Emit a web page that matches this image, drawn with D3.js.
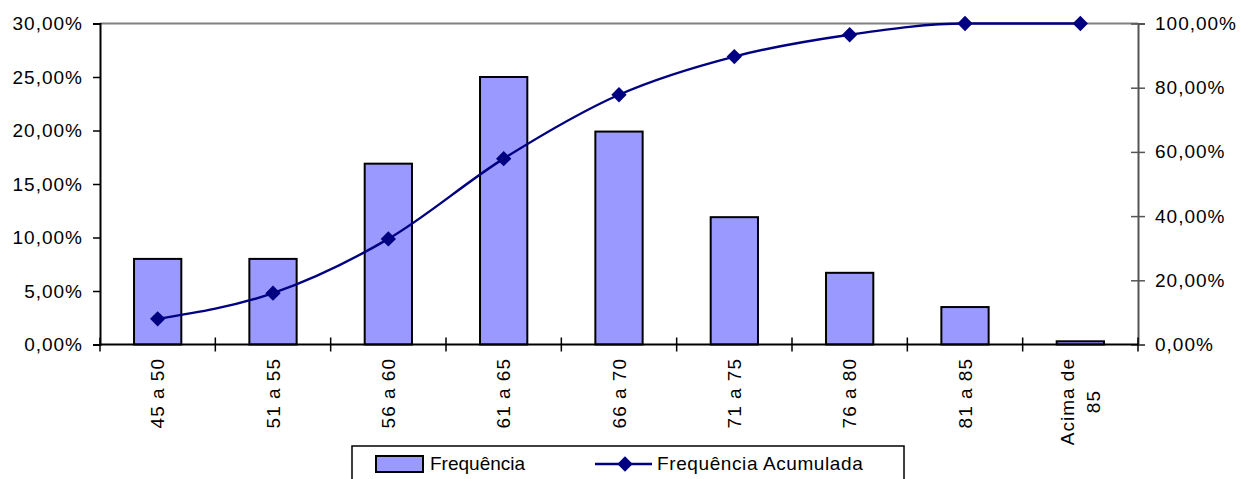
<!DOCTYPE html>
<html>
<head>
<meta charset="utf-8">
<script src="https://cdn.jsdelivr.net/npm/d3@7"></script>
<style>
  body { margin: 0; background: #fff; }
  svg text { font-family: "Liberation Sans", Arial, sans-serif; fill: #000; }
</style>
</head>
<body>
<div id="graph"></div>
<script>
// data
var categories = ["45 a 50", "51 a 55", "56 a 60", "61 a 65", "66 a 70", "71 a 75", "76 a 80", "81 a 85", "Acima de\n85"];
var freq = [8.0, 8.0, 16.9, 25.0, 19.9, 11.9, 6.7, 3.5, 0.3];
var freqAcum = [8.0, 16.0, 32.9, 57.9, 77.8, 89.7, 96.5, 100, 100];
var leftTicks = [0, 5, 10, 15, 20, 25, 30];
var rightTicks = [0, 20, 40, 60, 80, 100];

var W = 1242, H = 479;
// note: "top" is reserved on window, so plot_* names
var plot_l = 100, plot_r = 1138, plot_t = 23.5, plot_b = 344.5;

var svg = d3.select("#graph").append("svg")
  .attr("width", W)
  .attr("height", H);

function pct(v) { return d3.format(".2f")(v).replace(".", ",") + "%"; }

// scales
var x0 = d3.scaleBand().domain(categories).range([plot_l, plot_r]).padding(0);
var xBar = d3.scaleBand().domain(categories).range([plot_l, plot_r])
  .paddingInner(0.59).paddingOuter(0.295);
var yL = d3.scaleLinear().domain([0, 30]).range([plot_b, plot_t]);
var yR = d3.scaleLinear().domain([0, 100]).range([plot_b, plot_t]);

// top border
svg.append("line")
  .attr("x1", plot_l).attr("x2", plot_r)
  .attr("y1", plot_t).attr("y2", plot_t)
  .attr("stroke", "#808080").attr("stroke-width", 2);

// bars
svg.selectAll(".bar")
  .data(freq)
  .enter().append("rect")
  .attr("class", "bar")
  .attr("x", function(d, i) { return xBar(categories[i]); })
  .attr("width", xBar.bandwidth())
  .attr("y", function(d) { return yL(d); })
  .attr("height", function(d) { return plot_b - yL(d); })
  .attr("fill", "#9999ff")
  .attr("stroke", "#000")
  .attr("stroke-width", 2);

// left axis
var gl = svg.append("g")
  .attr("transform", "translate(" + plot_l + ",0)")
  .call(d3.axisLeft(yL).tickValues(leftTicks).tickSize(7).tickPadding(10).tickFormat(pct));
gl.select(".domain").attr("stroke", "#000").attr("stroke-width", 2);
gl.selectAll(".tick line").attr("stroke", "#000").attr("stroke-width", 1.5);
gl.selectAll("text").style("font-size", "19px").style("letter-spacing", "1px")
  .attr("fill", "#000");

// right axis
var gr = svg.append("g")
  .attr("transform", "translate(" + plot_r + ",0)")
  .call(d3.axisRight(yR).tickValues(rightTicks).tickSize(7).tickPadding(10).tickFormat(pct));
gr.select(".domain").attr("stroke", "#555").attr("stroke-width", 2);
gr.selectAll(".tick line").attr("stroke", "#555").attr("stroke-width", 1.5).attr("x1", -7);
gr.selectAll("text").style("font-size", "19px").style("letter-spacing", "1px")
  .attr("fill", "#000");

// bottom axis: line, cross ticks at category boundaries
svg.append("line")
  .attr("x1", plot_l).attr("x2", plot_r)
  .attr("y1", plot_b).attr("y2", plot_b)
  .attr("stroke", "#000").attr("stroke-width", 2);
var bounds = categories.map(function(c) { return x0(c); }).concat([plot_r]);
svg.selectAll(".xtick")
  .data(bounds)
  .enter().append("line")
  .attr("x1", function(d) { return d; }).attr("x2", function(d) { return d; })
  .attr("y1", plot_b - 7).attr("y2", plot_b + 7)
  .attr("stroke", "#000").attr("stroke-width", 1.5);

// rotated category labels
categories.forEach(function(c) {
  var cx = x0(c) + x0.bandwidth() / 2;
  var lines = c.split("\n");
  var g = svg.append("g")
    .attr("transform", "translate(" + cx + ",358) rotate(-90)");
  var texts = lines.map(function(l, j) {
    return g.append("text")
      .attr("x", 0)
      .attr("y", (j - (lines.length - 1) / 2) * 26)
      .attr("dy", "0.35em")
      .attr("text-anchor", "end")
      .style("font-size", "19px")
      .style("letter-spacing", "1px")
      .text(l);
  });
  if (lines.length > 1) {
    var maxLen = d3.max(texts, function(t) { return t.node().getComputedTextLength(); });
    texts.forEach(function(t) {
      t.attr("text-anchor", "middle").attr("x", -maxLen / 2);
    });
  }
});

// cumulative line
var line = d3.line()
  .x(function(d, i) { return x0(categories[i]) + x0.bandwidth() / 2; })
  .y(function(d) { return yR(d); })
  .curve(d3.curveMonotoneX);

svg.append("path")
  .datum(freqAcum)
  .attr("d", line)
  .attr("fill", "none")
  .attr("stroke", "#000080")
  .attr("stroke-width", 2.4);

var diamond = d3.symbol().type(d3.symbolDiamond2).size(150);
svg.selectAll(".pt")
  .data(freqAcum)
  .enter().append("path")
  .attr("class", "pt")
  .attr("transform", function(d, i) {
    return "translate(" + (x0(categories[i]) + x0.bandwidth() / 2) + "," + yR(d) + ")";
  })
  .attr("d", diamond)
  .attr("fill", "#000080");

// legend
var lg = svg.append("g");
lg.append("rect")
  .attr("x", 352).attr("y", 446)
  .attr("width", 552).attr("height", 50)
  .attr("fill", "#fff").attr("stroke", "#000").attr("stroke-width", 1.5);
lg.append("rect")
  .attr("x", 376).attr("y", 456)
  .attr("width", 47).attr("height", 16)
  .attr("fill", "#9999ff").attr("stroke", "#000").attr("stroke-width", 2);
lg.append("text")
  .attr("x", 430).attr("y", 470)
  .style("font-size", "19px")
  .text("Frequência");
lg.append("line")
  .attr("x1", 595).attr("x2", 652)
  .attr("y1", 464).attr("y2", 464)
  .attr("stroke", "#000080").attr("stroke-width", 2.4);
lg.append("path")
  .attr("transform", "translate(625,464)")
  .attr("d", diamond)
  .attr("fill", "#000080");
lg.append("text")
  .attr("x", 657).attr("y", 470)
  .style("font-size", "19px")
  .style("letter-spacing", "0.6px")
  .text("Frequência Acumulada");
</script>
</body>
</html>
